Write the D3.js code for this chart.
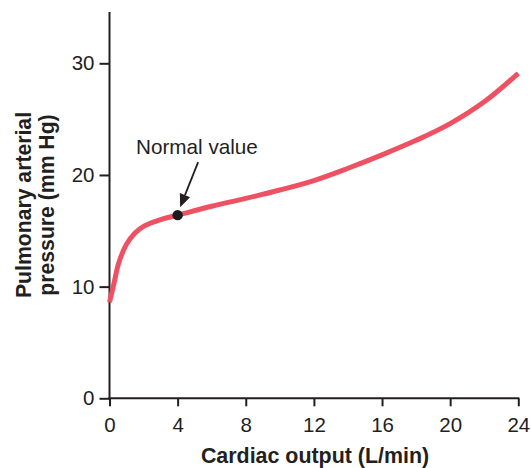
<!DOCTYPE html>
<html>
<head>
<meta charset="utf-8">
<script src="https://cdn.jsdelivr.net/npm/d3@7"></script>
<style>
  html, body { margin: 0; padding: 0; background: #fff; }
  svg { display: block; font-family: "Liberation Sans", Arial, Helvetica, sans-serif; }
</style>
</head>
<body>
<svg id="chart" width="531" height="468"></svg>
<script>
// Data
const cardiacOutput = [0, 0.25, 0.5, 0.75, 1, 1.5, 2, 3, 4, 6, 8, 10, 12, 14, 16, 18, 20, 22, 24];
const pressure      = [8.6, 10.2, 11.9, 13.0, 13.8, 14.8, 15.4, 16.0, 16.4, 17.2, 17.9, 18.65, 19.5, 20.6, 21.8, 23.1, 24.6, 26.55, 29.1];
const xTicks = [0, 4, 8, 12, 16, 20, 24];
const yTicks = [0, 10, 20, 30];
const normalPoint = { x: 4, y: 16.4, label: "Normal value" };
const xTitle = "Cardiac output (L/min)";
const yTitleLines = ["Pulmonary arterial", "pressure (mm Hg)"];

const ink = "#231f20";
const red = "#ee5262";

const svg = d3.select("#chart");

const x = d3.scaleLinear().domain([0, 24]).range([109.5, 518.3]);
const y = d3.scaleLinear().domain([0, 30]).range([398.3, 63.3]);
const yTop = 12;

// Axes
const xAxis = svg.append("g")
  .attr("transform", `translate(0,${y(0)})`)
  .call(d3.axisBottom(x).tickValues(xTicks).tickSize(8).tickPadding(11).tickSizeOuter(0));
const yAxis = svg.append("g")
  .attr("transform", `translate(${x(0)},0)`)
  .call(d3.axisLeft(y).tickValues(yTicks).tickSize(10).tickPadding(5).tickSizeOuter(0));

[xAxis, yAxis].forEach(g => {
  g.select(".domain").remove();
  g.selectAll(".tick line").attr("stroke", ink).attr("stroke-width", 2);
  g.selectAll(".tick text").attr("fill", ink).style("font-size", "20.5px")
    .style("font-family", "'Liberation Sans', Arial, sans-serif");
});

// Axis lines
svg.append("line")
  .attr("x1", x(0)).attr("x2", x(0))
  .attr("y1", yTop).attr("y2", y(0) + 1)
  .attr("stroke", ink).attr("stroke-width", 2);
svg.append("line")
  .attr("x1", x(0) - 1).attr("x2", x(24) + 1)
  .attr("y1", y(0)).attr("y2", y(0))
  .attr("stroke", ink).attr("stroke-width", 2);

// Curve
const pts = cardiacOutput.map((c, i) => [c, pressure[i]]);
const line = d3.line().x(d => x(d[0])).y(d => y(d[1])).curve(d3.curveCatmullRom.alpha(0.5));
svg.append("path")
  .attr("d", line(pts))
  .attr("fill", "none")
  .attr("stroke", red)
  .attr("stroke-width", 5);

// Normal value marker
const px = x(normalPoint.x), py = y(normalPoint.y);
svg.append("circle").attr("cx", px).attr("cy", py).attr("r", 5.2).attr("fill", "#1a1a1a");

// Arrow
const tail = [px + 20.5, py - 53];
const tip = [px + 2.5, py - 8];
const ang = Math.atan2(tip[1] - tail[1], tip[0] - tail[0]);
const headLen = 13, headW = 5.5;
const base = [tip[0] - headLen * Math.cos(ang), tip[1] - headLen * Math.sin(ang)];
svg.append("line")
  .attr("x1", tail[0]).attr("y1", tail[1])
  .attr("x2", base[0]).attr("y2", base[1])
  .attr("stroke", ink).attr("stroke-width", 1.8);
svg.append("path")
  .attr("d", `M${tip[0]},${tip[1]} L${base[0] + headW * Math.sin(ang)},${base[1] - headW * Math.cos(ang)} L${base[0] - headW * Math.sin(ang)},${base[1] + headW * Math.cos(ang)} Z`)
  .attr("fill", ink);

svg.append("text")
  .attr("x", 136).attr("y", 154)
  .attr("fill", ink)
  .style("font-size", "20.7px")
  .text(normalPoint.label);

// Axis titles
svg.append("text")
  .attr("x", 315).attr("y", 463)
  .attr("text-anchor", "middle")
  .attr("fill", ink)
  .style("font-size", "21.4px").style("font-weight", "bold")
  .text(xTitle);

const yt = svg.append("text")
  .attr("transform", "translate(0,205) rotate(-90)")
  .attr("text-anchor", "middle")
  .attr("fill", ink)
  .style("font-size", "21.2px").style("font-weight", "bold");
yt.append("tspan").attr("x", 0).attr("y", 31).text(yTitleLines[0]);
yt.append("tspan").attr("x", 0).attr("y", 54).text(yTitleLines[1]);
</script>
</body>
</html>
